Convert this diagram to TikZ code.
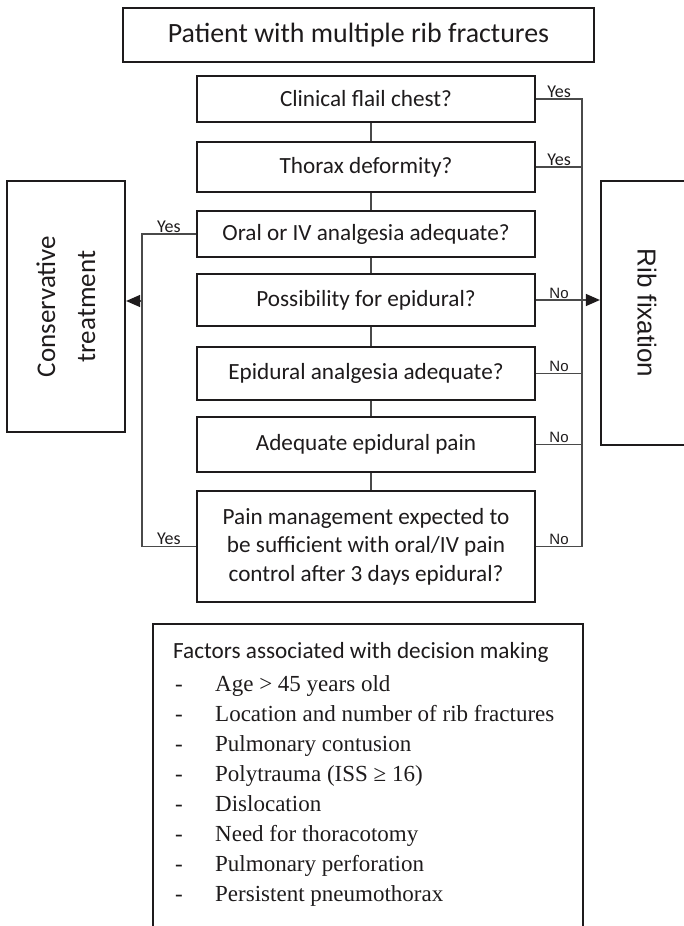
\documentclass[tikz,border=0pt]{standalone}
\usepackage{fontspec}
\setmainfont{Carlito}
\newfontfamily\arialf{Liberation Sans}
\newfontfamily\timesf{Liberation Serif}
\usetikzlibrary{arrows.meta,calc}
\definecolor{ink}{HTML}{1E1B1C}
\definecolor{conn}{HTML}{4A4A4A}
\tikzset{
  box/.style={draw=ink, line width=2.2pt, rectangle, inner sep=2pt, align=center, text=ink,
              font=\fontsize{23.2}{28.5}\selectfont},
  conline/.style={draw=conn, line width=1.2pt},
  arr/.style={conline, -{Triangle[length=14pt,width=12pt,fill=ink,color=ink]}},
  yeslbl/.style={font=\fontsize{18}{18}\selectfont, text=ink, inner sep=1.5pt, anchor=south},
  nolbl/.style={font=\arialf\fontsize{15}{15}\selectfont, text=ink, inner sep=1.5pt, anchor=south},
  fitem/.style={font=\timesf\fontsize{23}{23}\selectfont, text=ink, anchor=base west, inner sep=0pt},
}
\begin{document}
\begin{tikzpicture}[x=1pt,y=-1pt]
\useasboundingbox (0,0) rectangle (684,926);
\clip (0,0) rectangle (684,926);

\node[box, minimum width=471pt, minimum height=54pt, font=\fontsize{27.9}{30}\selectfont] (title) at (358.5,35) {Patient with multiple rib fractures};
\node[box, minimum width=338pt, minimum height=46pt] (clin) at (366,99) {Clinical flail chest?};
\node[box, minimum width=338pt, minimum height=50pt] (thor) at (366,167) {Thorax deformity?};
\node[box, minimum width=338pt, minimum height=46pt] (oral) at (366,234) {Oral or IV analgesia adequate?};
\node[box, minimum width=338pt, minimum height=52pt] (poss) at (366,300) {Possibility for epidural?};
\node[box, minimum width=338pt, minimum height=53pt] (epi) at (366,373.5) {Epidural analgesia adequate?};
\node[box, minimum width=338pt, minimum height=55pt] (adeq) at (366,444.5) {Adequate epidural pain};
\node[box, minimum width=338pt, minimum height=111pt] (pain) at (366,546.5) {Pain management expected to\\be sufficient with oral/IV pain\\control after 3 days epidural?};

\node[box, minimum width=118pt, minimum height=251pt] (cons) at (66,306.5) {};
\node[rotate=90, align=center, text=ink, font=\fontsize{27}{40}\selectfont] (constxt) at (cons.center) {Conservative\\treatment};
\node[box, minimum width=92pt, minimum height=264pt] (rib) at (647,313) {};
\node[rotate=-90, text=ink, font=\arialf\fontsize{26}{30}\selectfont] (ribtxt) at (rib.center) {Rib fixation};

% vertical chain
\foreach \a/\b in {clin/thor, thor/oral, oral/poss, poss/epi, epi/adeq, adeq/pain}
  \draw[conline] ([xshift=5pt]\a.south) -- ([xshift=5pt]\b.north);

% right trunk
\coordinate (trR) at (582,99);
\draw[conline] (clin.east) -- (clin.east -| trR) -- (pain.east -| trR) -- (pain.east);
\draw[conline] (thor.east) -- (thor.east -| trR);
\draw[conline] (epi.east) -- (epi.east -| trR);
\draw[conline] (adeq.east) -- (adeq.east -| trR);
\draw[arr] (poss.east) -- (rib.west |- poss.east);

\node[yeslbl] (y1) at ($(clin.east)!0.5!(clin.east -| trR)$) {Yes};
\node[yeslbl] (y2) at ($(thor.east)!0.5!(thor.east -| trR)$) {Yes};
\node[nolbl] (n1) at ($(poss.east)!0.5!(poss.east -| trR)$) {No};
\node[nolbl] (n2) at ($(epi.east)!0.5!(epi.east -| trR)$) {No};
\node[nolbl] (n3) at ($(adeq.east)!0.5!(adeq.east -| trR)$) {No};
\node[nolbl] (n4) at ($(pain.east)!0.5!(pain.east -| trR)$) {No};

% left trunk
\coordinate (trL) at (142,234);
\coordinate (jl) at (142,301);
\draw[conline] (oral.west) -- (oral.west -| trL) -- (pain.west -| trL) -- (pain.west);
\draw[arr] (jl) -- (cons.east |- jl);
\node[yeslbl] (y3) at ($(oral.west)!0.5!(oral.west -| trL)$) {Yes};
\node[yeslbl] (y4) at ($(pain.west)!0.5!(pain.west -| trL)$) {Yes};

% factors box
\node[box, minimum width=430pt, minimum height=316pt] (fact) at (368,782) {};
\node[anchor=base west, inner sep=0pt, text=ink, font=\fontsize{23.2}{23}\selectfont] (fh) at (173,658) {Factors associated with decision making};
\foreach \i/\t in {1/Age > 45 years old, 2/Location and number of rib fractures, 3/Pulmonary contusion, 4/Polytrauma (ISS ≥ 16), 5/Dislocation, 6/Need for thoracotomy, 7/Pulmonary perforation, 8/Persistent pneumothorax} {
  \node[fitem] (fd\i) at (175,{661+30*\i}) {-};
  \node[fitem] (ft\i) at (215,{661+30*\i}) {\t};
}
\end{tikzpicture}
\end{document}
